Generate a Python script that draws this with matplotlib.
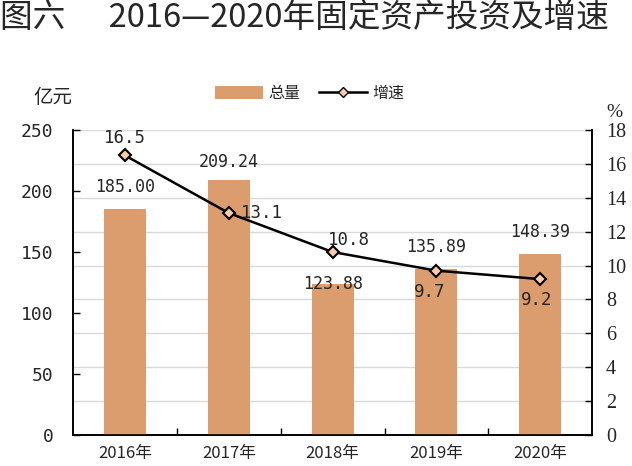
import numpy as np
import matplotlib.pyplot as plt
from matplotlib.lines import Line2D
from matplotlib.patches import Patch

plt.rcParams['font.family'] = ['Noto Sans CJK SC', 'DejaVu Sans']

years = ['2016年', '2017年', '2018年', '2019年', '2020年']
total = [185.00, 209.24, 123.88, 135.89, 148.39]
growth = [16.5, 13.1, 10.8, 9.7, 9.2]

# label offsets in pixels (dx, dy)
bar_off = [(0, 22), (0, 18), (0, 0), (0, 22), (0, 22)]
line_off = [(0, 17), (33, 0), (16, 12), (-7, -21), (-4, -21)]

bar_color = '#DC9D6E'
txt = '#262626'
num_font = 'DejaVu Sans Mono'

fig = plt.figure(figsize=(6.32, 4.66), dpi=100)
ax = fig.add_axes([0.1155, 0.0665, 0.8215, 0.6545])
ax2 = ax.twinx()

x = np.arange(len(years))
ax.bar(x, total, width=0.405, color=bar_color, zorder=2)
ax.set_xlim(-0.5, len(years) - 0.5)
ax.set_ylim(0, 250)
ax.set_yticks(np.arange(0, 251, 50))
ax.set_xticks(x)
ax.set_xticklabels(years, fontsize=12, color=txt, fontweight='light')
ax.set_xticks(np.arange(0.5, len(years) - 1, 1), minor=True)
ax.tick_params(axis='x', which='major', length=0, pad=7)
ax.tick_params(axis='x', which='minor', direction='in', length=5, width=1)
ax.tick_params(axis='y', direction='in', length=5, width=1, labelsize=13,
               labelcolor=txt, pad=14)
for lab in ax.get_yticklabels():
    lab.set_family(num_font)

ax2.set_ylim(0, 18)
ax2.set_yticks(np.arange(0, 19, 2))
ax2.tick_params(axis='y', direction='in', length=5, width=1, labelsize=14.5,
                labelcolor=txt, pad=10)
for lab in ax2.get_yticklabels():
    lab.set_family('Liberation Serif')
ax2.grid(axis='y', color='#D9D9D9', linewidth=1, zorder=0)
ax2.set_axisbelow(True)
ax.set_zorder(ax2.get_zorder() + 1)
ax.patch.set_visible(False)

for a in (ax, ax2):
    a.spines['top'].set_visible(False)
    for s in ('left', 'right', 'bottom'):
        a.spines[s].set_linewidth(1.2)

ax.plot(x, [g * 250 / 18 for g in growth], color='black', linewidth=1.8,
        marker='D', markersize=6.5, markerfacecolor='#F8CBAD',
        markeredgecolor='black', markeredgewidth=1.5, zorder=5)

for i, v in enumerate(total):
    ax.annotate(f'{v:.2f}', (x[i], v), xytext=bar_off[i], textcoords='offset pixels',
                ha='center', va='center', fontsize=12, color=txt,
                family=num_font, zorder=6)
for i, g in enumerate(growth):
    ax.annotate(f'{g:.1f}', (x[i], g * 250 / 18), xytext=line_off[i],
                textcoords='offset pixels', ha='center', va='center',
                fontsize=12.5, color=txt, family=num_font, zorder=6)

fig.text(0.0, 0.962, '图六      2016—2020年固定资产投资及增速', fontsize=23.5,
         color=txt, va='center', ha='left')
fig.text(0.052, 0.79, '亿元', fontsize=14, color=txt, va='center')
fig.text(0.96, 0.758, '%', fontsize=14, color=txt, va='center',
         family='Liberation Serif')

handles = [Patch(facecolor=bar_color, edgecolor='none'),
           Line2D([], [], color='black', linewidth=1.8, marker='D', markersize=5,
                  markerfacecolor='#F8CBAD', markeredgecolor='black')]
fig.legend(handles, ['总量', '增速'], loc='center', bbox_to_anchor=(0.49, 0.80),
           ncol=2, frameon=False, fontsize=11.5, handlelength=3.0, handleheight=0.9,
           columnspacing=1.2, handletextpad=0.3, labelcolor=txt)

fig.savefig('out.png', dpi=100)
